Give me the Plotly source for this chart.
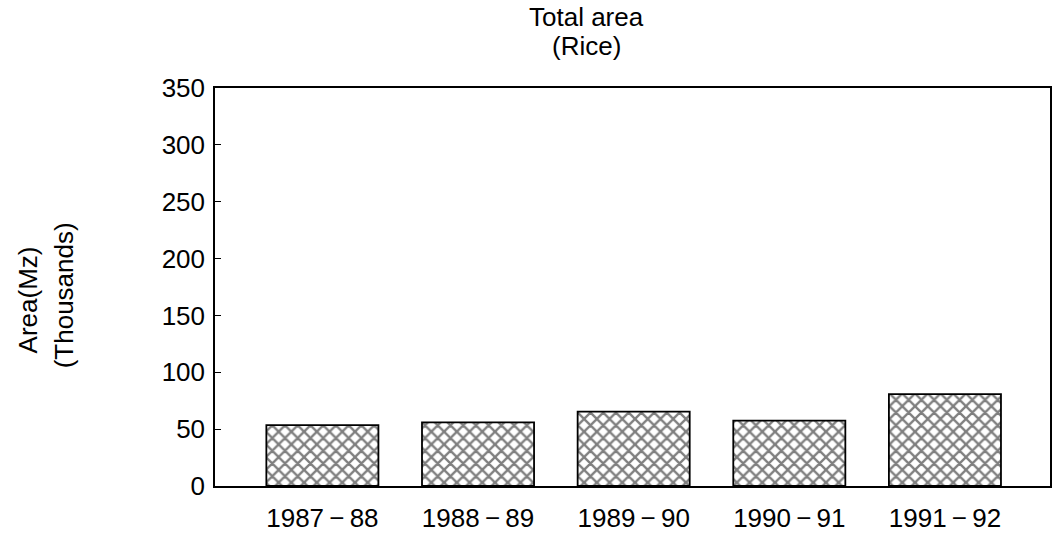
import plotly.graph_objects as go

categories = ["1987\u2009\u2212\u200988", "1988\u2009\u2212\u200989", "1989\u2009\u2212\u200990",
              "1990\u2009\u2212\u200991", "1991\u2009\u2212\u200992"]
area_thousands = [53.6, 56.0, 65.4, 57.5, 80.8]
y_ticks = [0, 50, 100, 150, 200, 250, 300, 350]

FONT = "Liberation Sans, Arial, Helvetica, sans-serif"
W, H = 1054, 535
L, R, T, B = 215, 2, 88, 47
PW, PH = W - L - R, H - T - B


def px_x(x):
    return (x - L) / PW


def px_y(y):
    return (H - B - y) / PH


fig = go.Figure()
fig.add_trace(go.Bar(
    x=list(range(len(categories))),
    y=area_thousands,
    width=0.72,
    marker=dict(
        color="white",
        line=dict(color="black", width=1.8),
        pattern=dict(shape="x", fgcolor="black", bgcolor="white", size=9, solidity=0.45),
    ),
    showlegend=False,
))

fig.update_layout(
    width=W, height=H,
    margin=dict(l=L, r=R, t=T, b=B),
    paper_bgcolor="white", plot_bgcolor="white",
    font=dict(family=FONT, color="black", size=26),
)
fig.update_xaxes(
    range=[-0.69, 4.675],
    tickmode="array",
    tickvals=list(range(len(categories))),
    ticktext=categories,
    showline=True, linecolor="black", linewidth=1.5, mirror=True,
    ticks="", showgrid=False, zeroline=False,
    tickfont=dict(size=26, family=FONT),
    ticklabelstandoff=8,
)
fig.update_yaxes(
    range=[0, 350],
    tickmode="array", tickvals=y_ticks,
    showline=True, linecolor="black", linewidth=1.5, mirror=True,
    ticks="inside", ticklen=6, tickcolor="black", tickwidth=1.2,
    showgrid=False, zeroline=False,
    tickfont=dict(size=26, family=FONT),
    ticklabelstandoff=3,
)

for txt, cx, cy in [("Total area", 587, 17), ("(Rice)", 587, 46)]:
    fig.add_annotation(
        text=txt, x=px_x(cx), y=px_y(cy), xref="paper", yref="paper",
        showarrow=False, font=dict(size=26, family=FONT),
        xanchor="center", yanchor="middle",
    )
for txt, cx, cy in [("Area(Mz)", 27, 301), ("(Thousands)", 64, 296)]:
    fig.add_annotation(
        text=txt, x=px_x(cx), y=px_y(cy), xref="paper", yref="paper",
        showarrow=False, textangle=-90, font=dict(size=26, family=FONT),
        xanchor="center", yanchor="middle",
    )

fig.write_html(
    "out.html",
    config={"displayModeBar": False},
    post_script="document.body.style.margin='0';document.body.style.overflow='hidden';",
)
